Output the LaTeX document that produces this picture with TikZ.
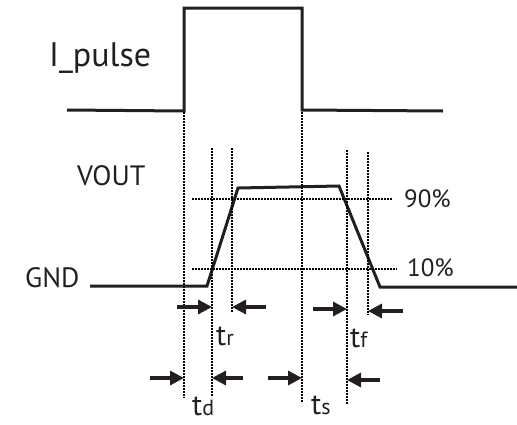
\documentclass[tikz,border=0pt]{standalone}
\usepackage{fontspec}
\setmainfont{PT Sans}
\usetikzlibrary{arrows.meta}
\definecolor{ink}{RGB}{35,31,32}
\begin{document}
\begin{tikzpicture}[x=1pt,y=-1pt,
  wave/.style={line width=3pt, line join=miter, color=ink},
  guide/.style={line width=2.6pt, dash pattern=on 2pt off 1pt, color=black},
  dimarrow/.style={line width=3.2pt, -{Triangle[length=14pt,width=14pt]}, color=ink},
  lbl/.style={inner sep=0pt, text=ink}]
\useasboundingbox (0,0) rectangle (517,424);
% I_pulse waveform
\draw[wave] (67,110) -- (184,111) -- (184,8) -- (302,8) -- (302,110) -- (443,111);
% VOUT waveform
\draw[wave] (90,286) -- (207,286) -- (238,188) -- (339,186) -- (380,287) -- (517,287);
% horizontal guides
\draw[guide] (192,199) -- (392,199);
\draw[guide] (192,269) -- (397,269);
% vertical guides
\coordinate (v1t) at (184,112); \coordinate (v1b) at (184,398);
\coordinate (v2t) at (212,148); \coordinate (v2b) at (212,397);
\coordinate (v3t) at (232,148); \coordinate (v3b) at (232,312);
\coordinate (v4t) at (302,112); \coordinate (v4b) at (302,403);
\coordinate (v5t) at (347,150); \coordinate (v5b) at (347,404);
\coordinate (v6t) at (368,152); \coordinate (v6b) at (368,315);
\foreach \i in {1,...,6} \draw[guide] (v\i t) -- (v\i b);
% arrows
\coordinate (a1s) at (177,307); \coordinate (a1e) at (212,307);
\coordinate (a2s) at (266,307); \coordinate (a2e) at (232,307);
\coordinate (a3s) at (313,309); \coordinate (a3e) at (347,309);
\coordinate (a4s) at (403,311); \coordinate (a4e) at (368,311);
\coordinate (b1s) at (150,378); \coordinate (b1e) at (184,378);
\coordinate (b2s) at (243,378); \coordinate (b2e) at (212,378);
\coordinate (b3s) at (268,378); \coordinate (b3e) at (302,378);
\coordinate (b4s) at (380,380); \coordinate (b4e) at (347,380);
\foreach \p in {a1,a2,a3,a4,b1,b2,b3,b4} \draw[dimarrow] (\p s) -- (\p e);
% labels
\node[lbl, anchor=west, font=\fontsize{34}{34}\selectfont] (ipulse) at (49,58) {I\_pulse};
\node[lbl, anchor=west, font=\fontsize{28}{28}\selectfont] (vout) at (77,176) {VOUT};
\node[lbl, anchor=west, font=\fontsize{28}{28}\selectfont] (gnd) at (25,278) {GND};
\node[lbl, anchor=west, font=\fontsize{25}{25}\selectfont] (p90) at (404,199) {90\%};
\node[lbl, anchor=west, font=\fontsize{25}{25}\selectfont] (p10) at (407,268) {10\%};
\node[lbl, anchor=west, font=\fontsize{30}{30}\selectfont] (tr) at (216,336) {t\fontsize{22}{22}\selectfont r};
\node[lbl, anchor=west, font=\fontsize{30}{30}\selectfont] (tf) at (350,338) {t\fontsize{22}{22}\selectfont f};
\node[lbl, anchor=west, font=\fontsize{30}{30}\selectfont] (td) at (192,406) {t\fontsize{22}{22}\selectfont d};
\node[lbl, anchor=west, font=\fontsize{30}{30}\selectfont] (ts) at (311,405) {t\fontsize{22}{22}\selectfont s};
\end{tikzpicture}
\end{document}
